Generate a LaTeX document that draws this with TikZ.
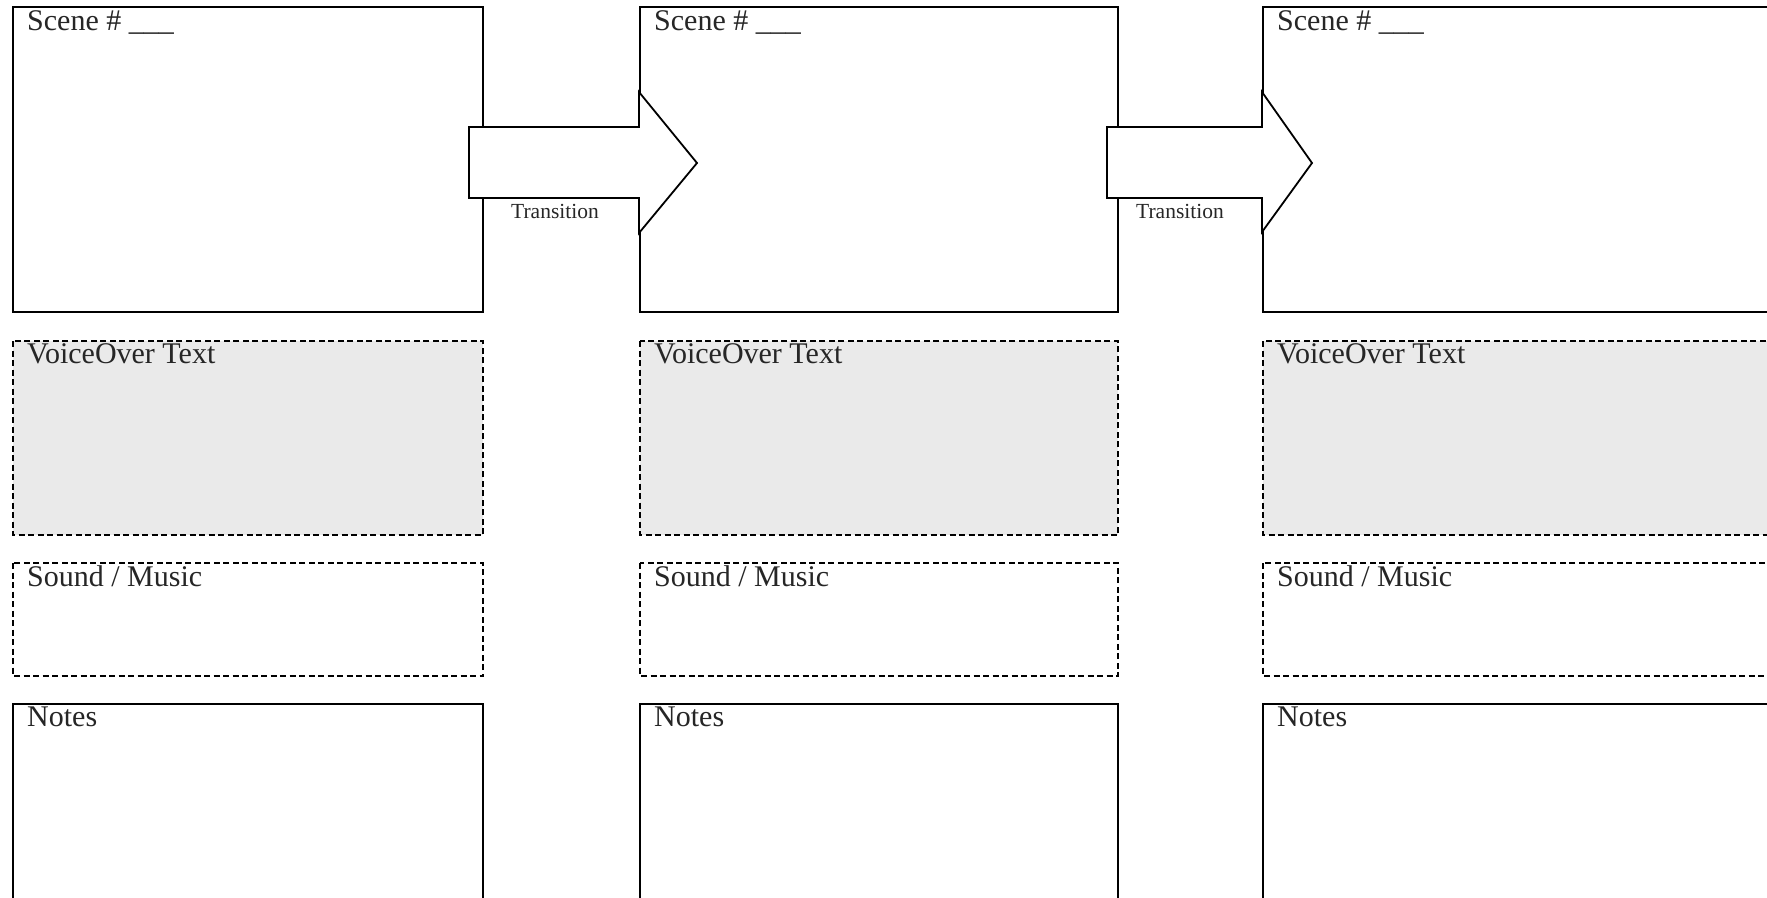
\documentclass[tikz,border=0pt]{standalone}
\usepackage{fontspec}
\setmainfont{Liberation Serif}
\begin{document}
\begin{tikzpicture}[x=1pt,y=-1pt,
  panel/.style={draw=black, line width=1.8pt, fill=white},
  voicebox/.style={draw=black, line width=1.6pt, dash pattern=on 6pt off 3.5pt, fill=voicegray},
  soundbox/.style={draw=black, line width=1.6pt, dash pattern=on 6pt off 3.5pt, fill=white},
  caption/.style={anchor=base west, inner sep=0pt, text=black!85, font=\fontsize{30}{36}\selectfont},
  arrowshape/.style={draw=black, line width=1.8pt, fill=white, line join=miter},
  translabel/.style={anchor=base, inner sep=0pt, text=black!85, font=\fontsize{21.5}{26}\selectfont}]
\definecolor{voicegray}{HTML}{EAEAEA}
\useasboundingbox (0,0) rectangle (1767,897);
\clip (0,0) rectangle (1767,897);

% one column of panels per scene: left edge / right edge
\foreach \c/\l/\r in {1/13/483, 2/640/1118, 3/1263/1800} {
  % scene frame
  \draw[panel] (\l,7) rectangle (\r,312);
  \node[caption] (scene\c) at (\l+14,30) {Scene \# \_\_\_};
  % voice-over block
  \draw[voicebox] (\l,341) rectangle (\r,535);
  \node[caption] (vo\c) at (\l+14,363) {VoiceOver Text};
  % sound / music block
  \draw[soundbox] (\l,563) rectangle (\r,676);
  \node[caption] (snd\c) at (\l+14,586) {Sound / Music};
  % notes block
  \draw[panel] (\l,704) rectangle (\r,960);
  \node[caption] (notes\c) at (\l+14,726) {Notes};
}

% transition arrows between scene frames
\draw[arrowshape] (469,127) -- (639,127) -- (639,92) -- (697,163)
  -- (639,233) -- (639,198) -- (469,198) -- cycle;
\node[translabel] (trans1) at (555,218) {Transition};

\draw[arrowshape] (1107,127) -- (1262,127) -- (1262,92) -- (1312,163)
  -- (1262,232) -- (1262,198) -- (1107,198) -- cycle;
\node[translabel] (trans2) at (1180,218) {Transition};
\end{tikzpicture}
\end{document}
